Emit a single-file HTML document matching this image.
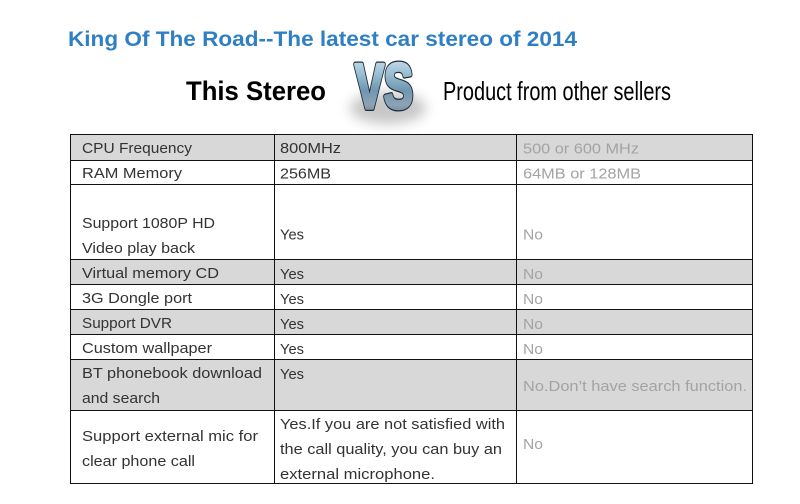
<!DOCTYPE html>
<html>
<head>
<meta charset="utf-8">
<style>
html,body{margin:0;padding:0;background:#fff;}
svg{display:block;}
.t{font-family:"Liberation Sans",Arial,sans-serif;font-size:15px;fill:#333;}
.g{fill:#a3a3a3;}
</style>
</head>
<body>
<svg width="800" height="504" viewBox="0 0 800 504" xmlns="http://www.w3.org/2000/svg">
<defs>
<linearGradient id="vsg" x1="0" y1="0" x2="0" y2="1">
<stop offset="0" stop-color="#d9ebf4"/>
<stop offset="0.3" stop-color="#9cc0d4"/>
<stop offset="0.55" stop-color="#6f96b0"/>
<stop offset="0.75" stop-color="#8da3b6"/>
<stop offset="1" stop-color="#5a7086"/>
</linearGradient>
<filter id="blur" x="-50%" y="-50%" width="200%" height="200%">
<feGaussianBlur stdDeviation="6"/>
</filter>
</defs>
<rect width="800" height="504" fill="#fff"/>

<!-- Title -->
<text x="68" y="46" textLength="509" lengthAdjust="spacingAndGlyphs" style="font-family:'Liberation Sans',Arial,sans-serif;font-weight:bold;font-size:21px;fill:#2f7fc4;">King Of The Road--The latest car stereo of 2014</text>

<!-- Header row -->
<text x="186" y="100" textLength="140" lengthAdjust="spacingAndGlyphs" style="font-family:'Liberation Sans',Arial,sans-serif;font-weight:bold;font-size:27px;fill:#000;">This Stereo</text>
<text x="443" y="100" textLength="228" lengthAdjust="spacingAndGlyphs" style="font-family:'Liberation Sans',Arial,sans-serif;font-size:26px;fill:#000;">Product from other sellers</text>

<!-- VS logo -->
<ellipse cx="388" cy="108" rx="38" ry="16" fill="#999" opacity="0.55" filter="url(#blur)"/>
<text x="355" y="108" textLength="58" lengthAdjust="spacingAndGlyphs" style="font-family:'Liberation Sans',Arial,sans-serif;font-weight:bold;font-size:63px;fill:#1f2c38;stroke:#1f2c38;stroke-width:6;stroke-linejoin:round;">VS</text>
<text x="355" y="108" textLength="58" lengthAdjust="spacingAndGlyphs" style="font-family:'Liberation Sans',Arial,sans-serif;font-weight:bold;font-size:63px;fill:url(#vsg);stroke:url(#vsg);stroke-width:3.5;stroke-linejoin:round;">VS</text>

<!-- Gray rows -->
<rect x="70" y="134" width="683" height="26" fill="#d8d8d8"/>
<rect x="70" y="260" width="683" height="25" fill="#d8d8d8"/>
<rect x="70" y="310" width="683" height="25" fill="#d8d8d8"/>
<rect x="70" y="360" width="683" height="51" fill="#d8d8d8"/>

<!-- Grid lines -->
<g stroke="#111" stroke-width="1" shape-rendering="crispEdges">
<line x1="70.5" y1="134" x2="70.5" y2="484"/>
<line x1="274.5" y1="134" x2="274.5" y2="484"/>
<line x1="516.5" y1="134" x2="516.5" y2="484"/>
<line x1="752.5" y1="134" x2="752.5" y2="484"/>
<line x1="70" y1="134.5" x2="753" y2="134.5"/>
<line x1="70" y1="160.5" x2="753" y2="160.5"/>
<line x1="70" y1="184.5" x2="753" y2="184.5"/>
<line x1="70" y1="259.5" x2="753" y2="259.5"/>
<line x1="70" y1="284.5" x2="753" y2="284.5"/>
<line x1="70" y1="309.5" x2="753" y2="309.5"/>
<line x1="70" y1="334.5" x2="753" y2="334.5"/>
<line x1="70" y1="359.5" x2="753" y2="359.5"/>
<line x1="70" y1="410.5" x2="753" y2="410.5"/>
<line x1="70" y1="483.5" x2="753" y2="483.5"/>
</g>

<!-- Column 1 -->
<text class="t" x="82" y="153" textLength="110" lengthAdjust="spacingAndGlyphs">CPU Frequency</text>
<text class="t" x="82" y="178" textLength="100" lengthAdjust="spacingAndGlyphs">RAM Memory</text>
<text class="t" x="82" y="228" textLength="133" lengthAdjust="spacingAndGlyphs">Support 1080P HD</text>
<text class="t" x="82" y="253" textLength="113" lengthAdjust="spacingAndGlyphs">Video play back</text>
<text class="t" x="82" y="278" textLength="137" lengthAdjust="spacingAndGlyphs">Virtual memory CD</text>
<text class="t" x="82" y="303" textLength="110" lengthAdjust="spacingAndGlyphs">3G Dongle port</text>
<text class="t" x="82" y="328" textLength="90" lengthAdjust="spacingAndGlyphs">Support DVR</text>
<text class="t" x="82" y="353" textLength="130" lengthAdjust="spacingAndGlyphs">Custom wallpaper</text>
<text class="t" x="82" y="378" textLength="180" lengthAdjust="spacingAndGlyphs">BT phonebook download</text>
<text class="t" x="82" y="403" textLength="78" lengthAdjust="spacingAndGlyphs">and search</text>
<text class="t" x="82" y="441" textLength="176" lengthAdjust="spacingAndGlyphs">Support external mic for</text>
<text class="t" x="82" y="466" textLength="113" lengthAdjust="spacingAndGlyphs">clear phone call</text>

<!-- Column 2 -->
<text class="t" x="280" y="153" textLength="61" lengthAdjust="spacingAndGlyphs">800MHz</text>
<text class="t" x="280" y="178.5" textLength="51" lengthAdjust="spacingAndGlyphs">256MB</text>
<text class="t" x="280" y="239.5" textLength="24" lengthAdjust="spacingAndGlyphs">Yes</text>
<text class="t" x="280" y="279" textLength="24" lengthAdjust="spacingAndGlyphs">Yes</text>
<text class="t" x="280" y="304" textLength="24" lengthAdjust="spacingAndGlyphs">Yes</text>
<text class="t" x="280" y="329" textLength="24" lengthAdjust="spacingAndGlyphs">Yes</text>
<text class="t" x="280" y="354" textLength="24" lengthAdjust="spacingAndGlyphs">Yes</text>
<text class="t" x="280" y="379" textLength="24" lengthAdjust="spacingAndGlyphs">Yes</text>
<text class="t" x="280" y="429" textLength="225" lengthAdjust="spacingAndGlyphs">Yes.If you are not satisfied with</text>
<text class="t" x="280" y="454" textLength="222" lengthAdjust="spacingAndGlyphs">the call quality, you can buy an</text>
<text class="t" x="280" y="479" textLength="155" lengthAdjust="spacingAndGlyphs">external microphone.</text>

<!-- Column 3 -->
<text class="t g" x="523" y="153.5" textLength="116" lengthAdjust="spacingAndGlyphs">500 or 600 MHz</text>
<text class="t g" x="523" y="178.5" textLength="118" lengthAdjust="spacingAndGlyphs">64MB or 128MB</text>
<text class="t g" x="523" y="239.5" textLength="20" lengthAdjust="spacingAndGlyphs">No</text>
<text class="t g" x="523" y="279" textLength="20" lengthAdjust="spacingAndGlyphs">No</text>
<text class="t g" x="523" y="304" textLength="20" lengthAdjust="spacingAndGlyphs">No</text>
<text class="t g" x="523" y="329" textLength="20" lengthAdjust="spacingAndGlyphs">No</text>
<text class="t g" x="523" y="354" textLength="20" lengthAdjust="spacingAndGlyphs">No</text>
<text class="t g" x="523" y="391" textLength="224" lengthAdjust="spacingAndGlyphs">No.Don’t have search function.</text>
<text class="t g" x="523" y="449" textLength="20" lengthAdjust="spacingAndGlyphs">No</text>
</svg>
</body>
</html>
